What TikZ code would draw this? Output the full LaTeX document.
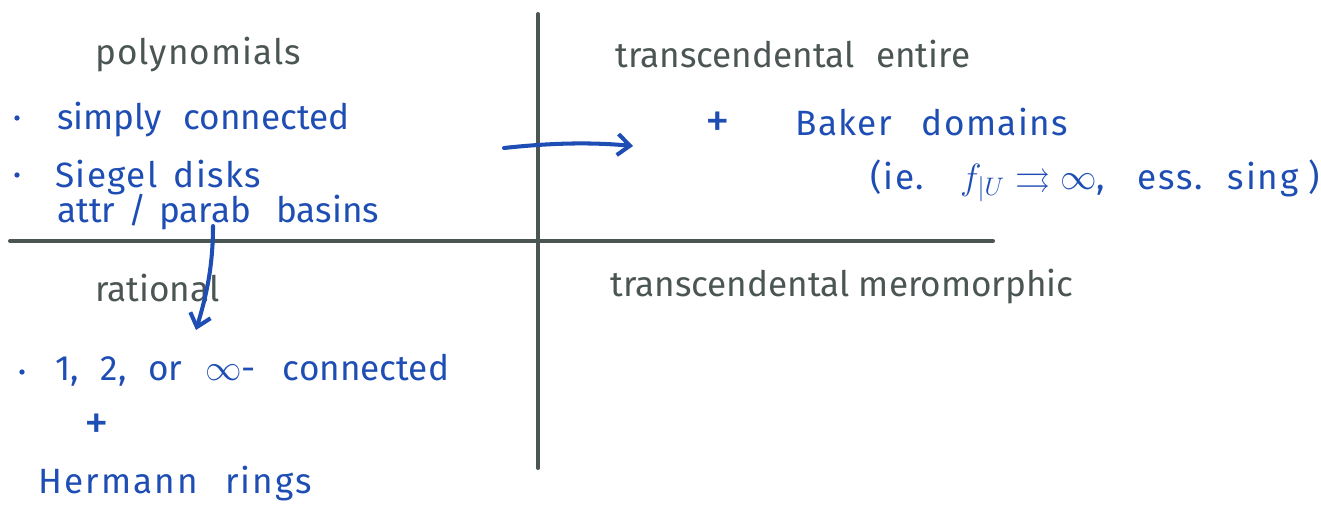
\documentclass[tikz,border=0pt]{standalone}
\usepackage{amssymb}
\usepackage{fontspec}
\setmainfont{Fira Sans}
\usetikzlibrary{arrows.meta}
\definecolor{penblue}{HTML}{1E4DB4}
\definecolor{pengray}{HTML}{4B5654}
\newcommand{\ls}[1]{\addfontfeatures{LetterSpace=#1}}
\tikzset{
  grid/.style={draw=pengray, line width=2.3pt, line cap=round},
  gtext/.style={anchor=base west, inner sep=0pt, text=pengray, font=\fontsize{20}{24}\selectfont},
  btext/.style={anchor=base west, inner sep=0pt, text=penblue, font=\fontsize{20}{24}\selectfont},
  bplus/.style={anchor=base west, inner sep=0pt, text=penblue, font=\fontsize{28}{30}\selectfont},
  bdot/.style={circle, fill=penblue, inner sep=0pt, minimum size=3pt},
  penarrow/.style={draw=penblue, line width=2.3pt, line cap=round, -{Straight Barb[length=7pt,width=12pt,line width=2.3pt]}}
}
\begin{document}
\begin{tikzpicture}[x=0.02cm,y=-0.02cm]
\useasboundingbox (0,0) rectangle (1321,508);
% axes
\coordinate (vtop) at (538,14);
\coordinate (vbot) at (538,468);
\coordinate (hl) at (10,241);
\coordinate (hr) at (993,241);
\draw[grid] (vtop) -- (vbot);
\draw[grid] (hl) -- (hr);
% headings
\node[gtext] (poly) at (95,64) {\ls{3}polynomials};
\node[gtext] (tent) at (615,67) {transcendental\hspace{7pt} entire};
\node[gtext] (rat) at (95,301) {rational};
\node[gtext] (tmer) at (610,296) {transcendental meromorphic};
% polynomial column
\node[bdot] (d1) at (17,118) {};
\node[btext] (sc) at (57,129) {simply\hspace{7pt} connected};
\node[bdot] (d2) at (17,175) {};
\node[btext] (sd) at (55,187) {\ls{4}Siegel\hspace{3pt} disks};
\node[btext] (ap) at (57,222) {attr\hspace{2pt} /\hspace{2pt} parab\hspace{9pt} basins};
% entire
\node[bplus] (plus1) at (705,137) {+};
\node[btext] (bd) at (795,135) {\ls{4}Baker\hspace{11pt} domains};
\node[btext] (ie) at (870,189) {\ls{5}(ie.\hspace{12pt} $f_{|U} \rightrightarrows \infty$,\hspace{12pt} ess.\hspace{6pt} sing\hspace{6pt})};
% rational
\node[bdot] (d3) at (22,372) {};
\node[btext] (conn) at (55,380) {1,\hspace{7pt} 2,\hspace{7pt} or\hspace{8pt} $\infty$-\hspace{10pt} connected};
\node[bplus] (plus2) at (84,439) {+};
\node[btext] (hr2) at (38,493) {\ls{6}Hermann\hspace{9pt} rings};
% arrows
\coordinate (a1s) at (504,148);
\coordinate (a1e) at (633,146);
\draw[penarrow] (a1s) .. controls (550,143) and (590,142) .. (a1e);
\coordinate (a2s) at (213,226);
\coordinate (a2e) at (196,330);
\draw[penarrow] (a2s) .. controls (213,270) and (205,300) .. (a2e);
\end{tikzpicture}
\end{document}
